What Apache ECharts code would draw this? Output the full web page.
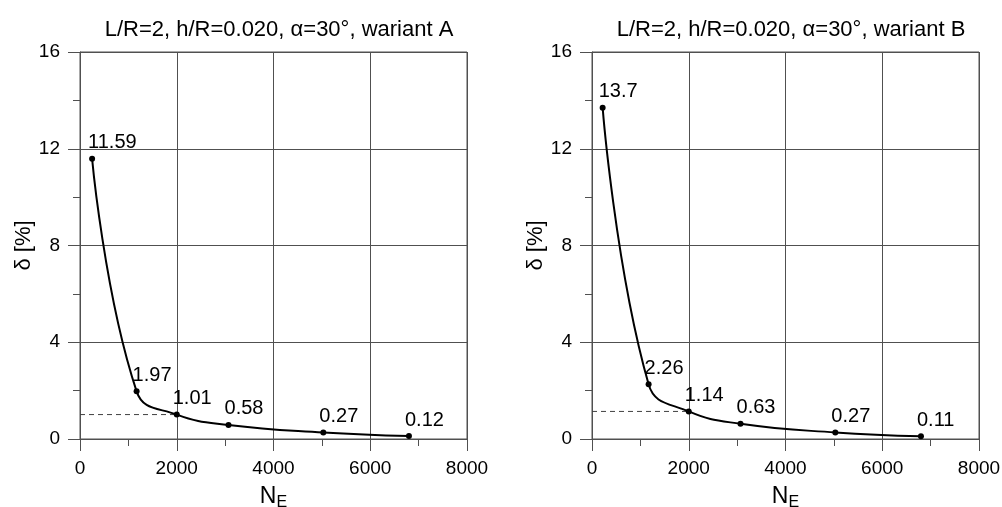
<!DOCTYPE html>
<html>
<head>
<meta charset="utf-8">
<script src="https://cdn.jsdelivr.net/npm/echarts@6/dist/echarts.min.js"></script>
<style>
html,body{margin:0;padding:0;background:#fff;}
#c{width:1002px;height:507px;}
</style>
</head>
<body>
<div id="c"></div>
<script>
const titles = ['L/R=2, h/R=0.020, \u03b1=30\u00b0, wariant A', 'L/R=2, h/R=0.020, \u03b1=30\u00b0, wariant B'];
const xTicks = [0, 2000, 4000, 6000, 8000];
const yTicks = [0, 4, 8, 12, 16];
const nA = [250, 1170, 2000, 3070, 5030, 6800];
const deltaA = [11.59, 1.97, 1.01, 0.58, 0.27, 0.12];
const nB = [220, 1170, 2000, 3070, 5030, 6800];
const deltaB = [13.7, 2.26, 1.14, 0.63, 0.27, 0.11];
const refN = 2000; // dashed reference line at N_E = 2000

const FONT = '"Liberation Sans", Arial, sans-serif';
const GRIDC = '#505050';
const grids = [
  {left: 80, top: 52, width: 387, height: 387},
  {left: 592, top: 52, width: 387, height: 387}
];

function xAxis(i) {
  return {
    gridIndex: i, type: 'value', min: xTicks[0], max: xTicks[xTicks.length - 1],
    interval: xTicks[1] - xTicks[0],
    name: '{n|N}{e|E}', nameLocation: 'middle', nameGap: 37,
    nameTextStyle: {
      rich: {
        n: {fontSize: 23, fontFamily: FONT, color: '#000', lineHeight: 28, verticalAlign: 'middle'},
        e: {fontSize: 16, fontFamily: FONT, color: '#000', lineHeight: 28, verticalAlign: 'bottom', padding: [12, 0, 0, 0]}
      }
    },
    axisLine: {show: true, lineStyle: {color: GRIDC, width: 1}},
    axisTick: {show: true, inside: false, length: 12, lineStyle: {color: GRIDC}},
    minorTick: {show: true, splitNumber: 2, length: 7, lineStyle: {color: GRIDC}},
    splitLine: {show: true, lineStyle: {color: GRIDC, width: 1}},
    axisLabel: {fontSize: 19, fontFamily: FONT, color: '#000', margin: 20, formatter: v => String(v)}
  };
}
function yAxis(i) {
  return {
    gridIndex: i, type: 'value', min: yTicks[0], max: yTicks[yTicks.length - 1],
    interval: yTicks[1] - yTicks[0],
    name: '\u03b4 [%]', nameLocation: 'middle', nameGap: 44, nameRotate: 90,
    nameTextStyle: {fontSize: 22, fontFamily: FONT, color: '#000'},
    axisLine: {show: true, lineStyle: {color: GRIDC, width: 1}},
    axisTick: {show: true, inside: false, length: 12, lineStyle: {color: GRIDC}},
    minorTick: {show: true, splitNumber: 2, length: 7, lineStyle: {color: GRIDC}},
    splitLine: {show: true, lineStyle: {color: GRIDC, width: 1}},
    axisLabel: {fontSize: 19, fontFamily: FONT, color: '#000', margin: 20, formatter: v => String(v)}
  };
}
function curve(i, xs, ys) {
  return {
    type: 'line', xAxisIndex: i, yAxisIndex: i,
    data: xs.map((x, k) => [x, ys[k]]),
    smooth: 0.45,
    symbol: 'circle', symbolSize: 6,
    lineStyle: {color: '#000', width: 2},
    itemStyle: {color: '#000'},
    label: {
      show: true, position: 'top', align: 'left', distance: 3, offset: [-4, 0],
      fontSize: 20, fontFamily: FONT, color: '#000',
      formatter: p => String(ys[p.dataIndex])
    },
    z: 5, animation: false
  };
}
function dashed(i, xs, ys) {
  const k = xs.indexOf(refN);
  return {
    type: 'line', xAxisIndex: i, yAxisIndex: i,
    data: [[xTicks[0], ys[k]], [xs[k], ys[k]]],
    symbol: 'none', silent: true,
    lineStyle: {color: '#404040', width: 1, type: [5, 4]},
    z: 3, animation: false
  };
}

const chart = echarts.init(document.getElementById('c'), null, {renderer: 'canvas'});
chart.setOption({
  backgroundColor: '#fff',
  animation: false,
  title: [
    {text: titles[0], left: 274, top: 14, textAlign: 'center', textStyle: {fontSize: 22, fontWeight: 'normal', fontFamily: FONT, color: '#000'}},
    {text: titles[1], left: 786, top: 14, textAlign: 'center', textStyle: {fontSize: 22, fontWeight: 'normal', fontFamily: FONT, color: '#000'}}
  ],
  grid: grids.map(g => Object.assign({show: true, borderColor: GRIDC, borderWidth: 1, backgroundColor: 'transparent', containLabel: false, outerBoundsMode: 'none'}, g)),
  xAxis: [xAxis(0), xAxis(1)],
  yAxis: [yAxis(0), yAxis(1)],
  series: [dashed(0, nA, deltaA), curve(0, nA, deltaA), dashed(1, nB, deltaB), curve(1, nB, deltaB)]
});
</script>
</body>
</html>
